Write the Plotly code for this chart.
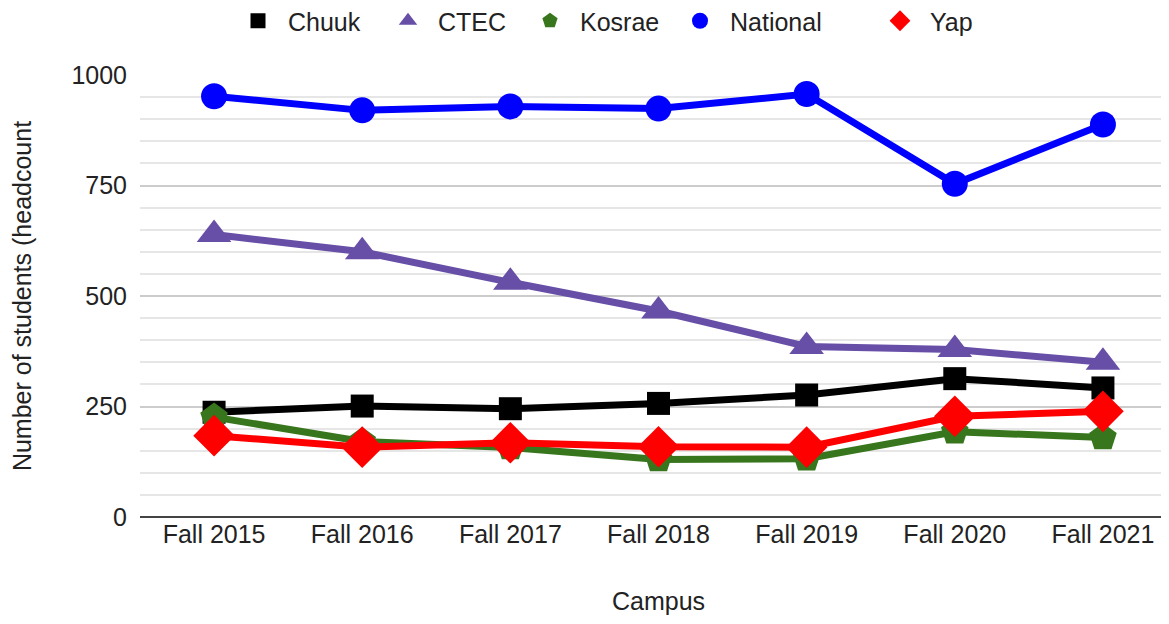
import plotly.graph_objects as go

campuses = ["Fall 2015", "Fall 2016", "Fall 2017", "Fall 2018", "Fall 2019", "Fall 2020", "Fall 2021"]
chuuk = [237, 251, 245, 257, 276, 313, 292]
ctec = [639, 600, 531, 466, 386, 379, 350]
kosrae = [226, 171, 157, 130, 132, 193, 180]
national = [952, 920, 929, 924, 957, 754, 888]
yap = [184, 158, 168, 159, 158, 228, 239]

series = [
    ("Chuuk", chuuk, "#000000", "square", 23),
    ("CTEC", ctec, "#674ea7", "triangle-up", 30),
    ("Kosrae", kosrae, "#38761d", "pentagon", 29),
    ("National", national, "#0000ff", "circle", 26),
    ("Yap", yap, "#ff0000", "diamond", 32),
]
legend_sizes = {"Chuuk": 15, "CTEC": 17, "Kosrae": 18, "National": 18, "Yap": 18}
# left edge (figure px) of each legend entry
legend_left = {"Chuuk": 220, "CTEC": 370, "Kosrae": 512, "National": 662, "Yap": 862}
TXT = "#222222"
W, H = 1169, 624
ML, MT, MB = 132, 67, 115
PW = W - ML
PH = H - MT - MB

fig = go.Figure()
for name, vals, color, sym, size in series:
    fig.add_trace(go.Scatter(
        x=campuses, y=vals, name=name, mode="lines+markers",
        line=dict(color=color, width=7),
        marker=dict(symbol=sym, size=size, color=color),
        showlegend=False,
    ))
legends = {}
for i, (name, vals, color, sym, size) in enumerate(series):
    lid = "legend" if i == 0 else f"legend{i+1}"
    fig.add_trace(go.Scatter(
        x=[None], y=[None], name=name, mode="markers",
        marker=dict(symbol=sym, size=legend_sizes[name], color=color),
        showlegend=True, legend=lid,
    ))
    legends[lid] = dict(orientation="h", x=(legend_left[name] - ML) / PW, xanchor="left", xref="paper",
                        y=1 + (MT + 10) / PH, yanchor="top", yref="paper",
                        font=dict(size=25, color=TXT), itemwidth=50, bgcolor="rgba(0,0,0,0)")

fig.update_layout(
    width=W, height=H,
    margin=dict(l=ML, r=0, t=MT, b=MB, autoexpand=False),
    paper_bgcolor="white", plot_bgcolor="white",
    font=dict(family="Liberation Sans, Arial, sans-serif", size=25, color=TXT),
    showlegend=True,
    **legends,
)
fig.update_xaxes(
    type="category", showgrid=False, showline=False, zeroline=False, automargin=False,
    tickfont=dict(size=25, color=TXT), ticks="",
    title=dict(text="Campus", font=dict(size=25, color=TXT), standoff=45),
    range=[-0.5, 6.5],
)
fig.update_yaxes(
    range=[0, 1000], tickvals=[0, 250, 500, 750, 1000], automargin=False,
    showgrid=True, gridcolor="#cccccc", gridwidth=2,
    zeroline=True, zerolinecolor="#444444", zerolinewidth=2,
    minor=dict(dtick=50, showgrid=True, gridcolor="#e6e6e6", gridwidth=2),
    tickfont=dict(size=25, color=TXT), ticklabelstandoff=12,
    title=dict(text="Number of students (headcount", font=dict(size=25, color=TXT), standoff=32),
)
fig.write_html("out.html")
